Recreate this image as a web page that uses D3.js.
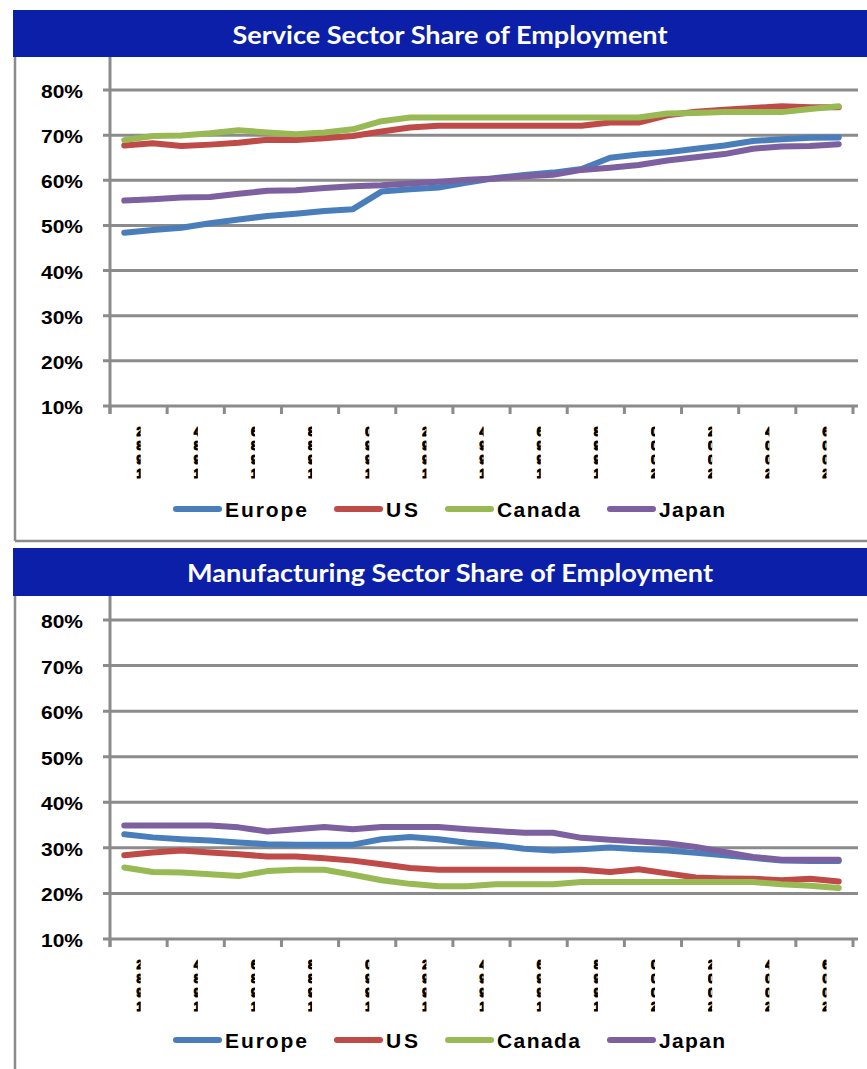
<!DOCTYPE html>
<html>
<head>
<meta charset="utf-8">
<script src="https://cdn.jsdelivr.net/npm/d3@7/dist/d3.min.js"></script>
<style>
  body { margin: 0; background: #fff; }
  svg { display: block; }
</style>
</head>
<body>
<svg id="chart" width="867" height="1069"></svg>
<script>
// ---- data -------------------------------------------------------------
const years = [1982, 1983, 1984, 1985, 1986, 1987, 1988, 1989, 1990, 1991, 1992, 1993, 1994,
               1995, 1996, 1997, 1998, 1999, 2000, 2001, 2002, 2003, 2004, 2005, 2006, 2007];
const tickYears = [1982, 1984, 1986, 1988, 1990, 1992, 1994, 1996, 1998, 2000, 2002, 2004, 2006];
const yTicks = [0.1, 0.2, 0.3, 0.4, 0.5, 0.6, 0.7, 0.8];
const seriesNames = ["Europe", "US", "Canada", "Japan"];
const seriesColors = ["#4a7ebb", "#be4b48", "#98b954", "#7d60a0"];

// service sector share of employment, %
const serviceEurope = [48.4, 49.0, 49.5, 50.5, 51.3, 52.1, 52.6, 53.2, 53.6, 57.5, 58.0, 58.4, 59.5,
                       60.5, 61.2, 61.7, 62.5, 65.0, 65.7, 66.2, 67.0, 67.7, 68.7, 69.1, 69.4, 69.5];
const serviceUS     = [67.7, 68.2, 67.6, 67.9, 68.3, 69.0, 68.9, 69.3, 69.8, 70.8, 71.7, 72.1, 72.1,
                       72.1, 72.1, 72.1, 72.1, 72.8, 72.8, 74.4, 75.2, 75.6, 76.0, 76.4, 76.2, 76.2];
const serviceCanada = [68.9, 69.8, 69.9, 70.4, 71.1, 70.6, 70.2, 70.6, 71.3, 73.1, 73.9, 73.9, 73.9,
                       73.9, 73.9, 73.9, 73.9, 73.9, 73.9, 74.8, 74.9, 75.1, 75.1, 75.1, 75.8, 76.4];
const serviceJapan  = [55.5, 55.8, 56.2, 56.3, 57.0, 57.7, 57.8, 58.3, 58.7, 58.9, 59.3, 59.7, 60.1,
                       60.4, 60.9, 61.2, 62.3, 62.8, 63.4, 64.4, 65.1, 65.8, 67.0, 67.5, 67.6, 68.0];

// manufacturing sector share of employment, %
const manufEurope = [33.0, 32.3, 31.9, 31.6, 31.2, 30.8, 30.7, 30.7, 30.7, 31.9, 32.4, 31.9, 31.1,
                     30.6, 29.8, 29.4, 29.7, 30.1, 29.7, 29.4, 28.9, 28.4, 27.8, 27.2, 27.1, 27.1];
const manufUS     = [28.4, 29.0, 29.4, 29.0, 28.6, 28.1, 28.1, 27.7, 27.2, 26.4, 25.6, 25.2, 25.2,
                     25.2, 25.2, 25.2, 25.2, 24.7, 25.3, 24.4, 23.5, 23.3, 23.2, 22.9, 23.2, 22.6];
const manufCanada = [25.7, 24.7, 24.6, 24.2, 23.8, 24.9, 25.2, 25.2, 24.1, 22.9, 22.1, 21.6, 21.6,
                     22.0, 22.0, 22.0, 22.5, 22.5, 22.5, 22.5, 22.5, 22.5, 22.5, 22.0, 21.7, 21.2];
const manufJapan  = [34.9, 34.9, 34.9, 34.9, 34.5, 33.6, 34.1, 34.6, 34.1, 34.6, 34.6, 34.6, 34.1,
                     33.7, 33.3, 33.3, 32.2, 31.8, 31.4, 31.0, 30.2, 29.1, 28.0, 27.4, 27.4, 27.4];

// ---- layout -----------------------------------------------------------
const panels = [
  { title: "Service Sector Share of Employment", titleWidth: 435,
    barTop: 10, barBottom: 57, yRange: [406, 90], legendY: 509, frameBottom: 541,
    values: [serviceEurope, serviceUS, serviceCanada, serviceJapan] },
  { title: "Manufacturing Sector Share of Employment", titleWidth: 526,
    barTop: 548, barBottom: 596, yRange: [939, 620], legendY: 1040, frameBottom: null,
    values: [manufEurope, manufUS, manufCanada, manufJapan] }
];

const W = 867;
const plotLeft = 110, plotRight = 853, gridRight = 858;
const gridColor = "#8b8b8b";
const legendTextWidths = [82, 32, 83, 66];

const svg = d3.select("#chart");
const defs = svg.append("defs");

const x = d3.scaleBand().domain(years).range([plotLeft, plotRight]);
const bw = x.bandwidth();
const cx = yr => x(yr) + bw / 2;

panels.forEach((p, pi) => {
  const g = svg.append("g");
  const y = d3.scaleLinear().domain([0.10, 0.80]).range(p.yRange);
  const yBase = y(0.10);

  // chart frame: left edge and (for the upper chart) the bottom edge
  g.append("line")
    .attr("x1", 15).attr("x2", 15)
    .attr("y1", p.barBottom).attr("y2", p.frameBottom === null ? 1069 : p.frameBottom)
    .attr("stroke", gridColor).attr("stroke-width", 2.5);
  if (p.frameBottom !== null) {
    g.append("line")
      .attr("x1", 15).attr("x2", W)
      .attr("y1", p.frameBottom).attr("y2", p.frameBottom)
      .attr("stroke", gridColor).attr("stroke-width", 2.5);
  }

  // horizontal gridlines with their outer tick marks
  g.selectAll("line.grid").data(yTicks).join("line")
    .attr("class", "grid")
    .attr("x1", plotLeft - 7).attr("x2", gridRight)
    .attr("y1", d => y(d)).attr("y2", d => y(d))
    .attr("stroke", gridColor).attr("stroke-width", 3);

  // vertical axis line
  g.append("line")
    .attr("x1", plotLeft).attr("x2", plotLeft)
    .attr("y1", p.barBottom).attr("y2", yBase + 8)
    .attr("stroke", gridColor).attr("stroke-width", 3);

  // category tick marks, one every two years
  const tickXs = years.filter((d, i) => i % 2 === 0).map(d => x(d)).concat([x.range()[1]]);
  g.selectAll("line.xtick").data(tickXs).join("line")
    .attr("class", "xtick")
    .attr("x1", d => d).attr("x2", d => d)
    .attr("y1", yBase).attr("y2", yBase + 8)
    .attr("stroke", gridColor).attr("stroke-width", 3);

  // percentage labels
  g.selectAll("text.ylab").data(yTicks).join("text")
    .attr("class", "ylab")
    .attr("x", 83).attr("y", d => y(d) + 8)
    .attr("text-anchor", "end")
    .attr("font-family", "'Liberation Sans', Arial, sans-serif")
    .attr("font-weight", "bold").attr("font-size", 19)
    .attr("textLength", 42).attr("lengthAdjust", "spacingAndGlyphs")
    .attr("fill", "#000")
    .text(d3.format(".0%"));

  // year labels: digits stacked in a very narrow slot, so only a sliver shows
  tickYears.forEach((yr, k) => {
    const c = x(yr) + bw;            // centred between the two years of the group
    const id = `yl-${pi}-${k}`;
    defs.append("clipPath").attr("id", id)
      .append("rect")
      .attr("x", c - 2.5).attr("y", yBase + 18)
      .attr("width", 4.5).attr("height", 60);
    const lg = g.append("g").attr("clip-path", `url(#${id})`);
    String(yr).split("").reverse().forEach((ch, i) => {
      lg.append("text")
        .attr("x", c - 2)
        .attr("y", yBase + 30 + i * 14)
        .attr("font-family", "'Liberation Sans', Arial, sans-serif")
        .attr("font-weight", "bold").attr("font-size", 12)
        .attr("fill", "#000").attr("stroke", "#000").attr("stroke-width", 1.1)
        .text(ch);
    });
  });

  // series lines
  const line = d3.line()
    .x((v, i) => cx(years[i]))
    .y(v => y(v / 100));
  p.values.forEach((vals, si) => {
    g.append("path")
      .datum(vals)
      .attr("d", line)
      .attr("fill", "none")
      .attr("stroke", seriesColors[si])
      .attr("stroke-width", 6)
      .attr("stroke-linejoin", "round")
      .attr("stroke-linecap", "round");
  });

  // legend
  let lx = 176;
  seriesNames.forEach((name, si) => {
    g.append("line")
      .attr("x1", lx).attr("x2", lx + 43)
      .attr("y1", p.legendY).attr("y2", p.legendY)
      .attr("stroke", seriesColors[si]).attr("stroke-width", 6)
      .attr("stroke-linecap", "round");
    g.append("text")
      .attr("x", lx + 49).attr("y", p.legendY + 8)
      .attr("font-family", "'Liberation Sans Narrow', 'Liberation Sans', Arial, sans-serif")
      .attr("font-weight", "bold").attr("font-size", 21)
      .attr("textLength", legendTextWidths[si]).attr("lengthAdjust", "spacing")
      .attr("fill", "#000")
      .text(name);
    lx += 49 + legendTextWidths[si] + 30;
  });

  // title bar
  g.append("rect")
    .attr("x", 13).attr("y", p.barTop)
    .attr("width", W - 13).attr("height", p.barBottom - p.barTop)
    .attr("fill", "#0b1fa8");
  g.append("text")
    .attr("x", 450).attr("y", p.barTop + 34)
    .attr("text-anchor", "middle")
    .attr("font-family", "Lato, 'Open Sans', sans-serif")
    .attr("font-weight", "bold").attr("font-size", 24)
    .attr("textLength", p.titleWidth).attr("lengthAdjust", "spacingAndGlyphs")
    .attr("fill", "#fff")
    .text(p.title);
});
</script>
</body>
</html>
